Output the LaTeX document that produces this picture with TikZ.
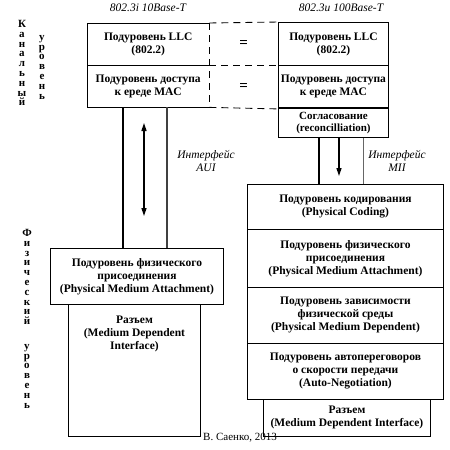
\documentclass[tikz,border=0pt]{standalone}
\usepackage{fontspec}
\setmainfont{Liberation Serif}
\usetikzlibrary{arrows.meta,positioning,calc}
\begin{document}
\begin{tikzpicture}[x=1pt,y=-1pt,
        layer/.style={inner sep=0pt, anchor=north west, align=center,
            font=\bfseries\fontsize{11.5}{13}\selectfont},
        box/.style={layer, draw, line width=0.9pt},
        caption/.style={inner sep=0pt, align=center, font=\itshape\fontsize{11.5}{12.5}\selectfont},
        letters/.style={inner sep=0pt, anchor=north, align=center,
            font=\bfseries\fontsize{11}{9.8}\selectfont},
        wire/.style={line width=1.6pt},
        seam/.style={line width=0.9pt, dash pattern=on 7pt off 5pt},
        signal/.style={line width=1.4pt, -{Triangle[length=8pt,width=5pt]}}]

    \useasboundingbox (0,0) rectangle (450,450);

    % Level names
    \node[letters] (kan) at (22,20) {К\\а\\н\\а\\л\\ь\\н\\ы\\й};
    \node[letters] (kanU) at (42,35) {у\\р\\о\\в\\е\\н\\ь};
    \node[letters] (fiz) at (27,229) {Ф\\и\\з\\и\\ч\\е\\с\\к\\и\\й};
    \node[letters] (fizU) at (27,344) {у\\р\\о\\в\\е\\н\\ь};

    % 802.3i 10Base-T
    \node[caption] (stdA) at (148,8) {802.3i 10Base-T};
    \node[layer, minimum width=122, minimum height=42] (llcA) at (87,23) {Подуровень LLC\\(802.2)};
    \node[layer, minimum width=122, minimum height=42] (macA) at (87,65) {Подуровень доступа\\к ереде MAC};
    \draw[line width=0.9pt] (llcA.north east) -- (llcA.north west) -- (macA.south west) -- (macA.south east);
    \draw[line width=0.9pt] (macA.north west) -- (macA.north east);
    \draw[seam] (llcA.north east) -- (macA.south east);
    \node[box, minimum width=173, minimum height=56] (pmaA) at (50,248)
        {Подуровень физического\\присоединения\\(Physical Medium Attachment)};
    \node[box, minimum width=132, minimum height=132] (mdiA) at (68,304) {};
    \node[layer, anchor=north] (mdiAtext) at ($(mdiA.north)+(0,-12pt)$)
        {Разъем\\(Medium Dependent\\Interface)};

    % AUI
    \coordinate (aL) at (123,0);
    \coordinate (aM) at (144,0);
    \coordinate (aR) at (167,0);
    \draw[wire] (macA.south -| aL) -- (pmaA.north -| aL);
    \draw[wire, black!75] (macA.south -| aR) -- (pmaA.north -| aR);
    \coordinate (auiTop) at (144,123);
    \coordinate (auiBot) at (144,216);
    \draw[signal, {Triangle[length=8pt,width=5pt]}-{Triangle[length=8pt,width=5pt]}] (auiTop) -- (auiBot);
    \node[caption] (aui) at (206,161) {Интерфейс\\AUI};

    % 802.3u 100Base-T
    \node[caption] (stdB) at (341,8) {802.3u 100Base-T};
    \node[box, minimum width=110, minimum height=43] (llcB) at (278,22) {Подуровень LLC\\(802.2)};
    \node[box, minimum width=110, minimum height=43] (macB) at (278,65) {Подуровень доступа\\к ереде MAC};
    \node[box, minimum width=110, minimum height=29, font=\bfseries\fontsize{11}{12}\selectfont] (recB) at (278,108)
        {Согласование\\(reconcilliation)};
    \draw[line width=2pt] (recB.north west) -- (recB.north east);

    % Equal sublayers
    \draw[seam] (llcA.north east) -- (llcB.north west);
    \draw[seam] (macA.north east) -- (macB.north west);
    \draw[seam] (macA.south east) -- (macB.south west);
    \node[font=\bfseries\fontsize{15}{15}\selectfont] (eqLLC) at ($(llcA.east)!0.5!(llcB.west)$) {=};
    \node[font=\bfseries\fontsize{15}{15}\selectfont] (eqMAC) at ($(macA.east)!0.5!(macB.west)$) {=};

    % Physical sublayers
    \node[box, minimum width=196, minimum height=45] (pcsB) at (247,184)
        {Подуровень кодирования\\(Physical Coding)};
    \node[box, minimum width=196, minimum height=58] (pmaB) at (247,229)
        {Подуровень физического\\присоединения\\(Physical Medium Attachment)};
    \node[box, minimum width=196, minimum height=56] (pmdB) at (247,287)
        {Подуровень зависимости\\физической среды\\(Physical Medium Dependent)};
    \node[box, minimum width=196, minimum height=56] (anB) at (247,343)
        {Подуровень автопереговоров\\о скорости передачи\\(Auto-Negotiation)};
    \node[box, minimum width=167, minimum height=37] (mdiB) at (263,399)
        {Разъем\\(Medium Dependent Interface)};

    % MII
    \coordinate (bL) at (319,0);
    \coordinate (bM) at (339,0);
    \coordinate (bR) at (363,0);
    \draw[wire] (recB.south -| bL) -- (pcsB.north -| bL);
    \draw[line width=1pt, black!60] (recB.south -| bR) -- (pcsB.north -| bR);
    \coordinate (miiBot) at (339,176);
    \draw[signal] (recB.south -| bM) -- (miiBot);
    \node[caption] (mii) at (397,161) {Интерфейс\\MII};

    % Author
    \node[inner sep=0pt, anchor=west, font=\fontsize{11}{12}\selectfont] (author) at (203,438) {В. Саенко, 2013};
\end{tikzpicture}
\end{document}
